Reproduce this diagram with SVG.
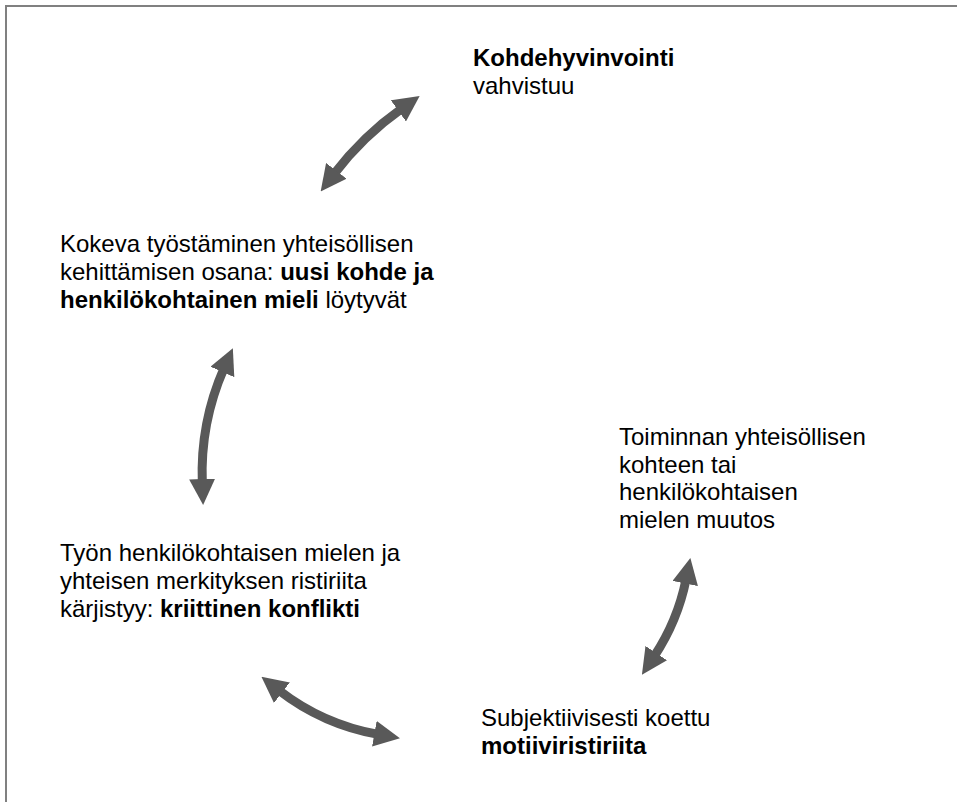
<svg xmlns="http://www.w3.org/2000/svg" width="957" height="802" viewBox="0 0 957 802">
  <style>
    .t { font-family: "Liberation Sans", Arial, sans-serif; font-size: 24px; fill: #000; }
    .b { font-weight: bold; }
    .arrow { fill: none; stroke: #595959; stroke-width: 9; stroke-linecap: butt; marker-start: url(#head); marker-end: url(#head); }
    .frame { fill: none; stroke: #808080; stroke-width: 2; }
  </style>
  <defs>
    <marker id="head" markerUnits="userSpaceOnUse" viewBox="0 0 26 26" markerWidth="26" markerHeight="26" refX="4" refY="13" orient="auto-start-reverse">
      <path d="M0,0 L26,13 L0,26 z" fill="#595959"/>
    </marker>
  </defs>

  <rect width="957" height="802" fill="#fff"/>
  <!-- outer frame, open to the right and bottom -->
  <path class="frame" d="M6,802 V6 H957"/>

  <!-- double-headed connectors around the cycle -->
  <g id="connectors">
    <path class="arrow" d="M334,174 Q363,136 401.7,108.6"/>
    <path class="arrow" d="M224,368.3 Q200,423 202.3,483"/>
    <path class="arrow" d="M278.8,690.2 Q323,724.5 378.3,734.4"/>
    <path class="arrow" d="M686,579.6 Q677.6,621 654.1,656.4"/>
  </g>

  <g id="node-kohdehyvinvointi">
    <text class="t" x="473" y="66"><tspan class="b">Kohdehyvinvointi</tspan></text>
    <text class="t" x="473" y="94">vahvistuu</text>
  </g>

  <g id="node-kokeva">
    <text class="t" x="60" y="252">Kokeva työstäminen yhteisöllisen</text>
    <text class="t" x="60" y="280">kehittämisen osana: <tspan class="b">uusi kohde ja</tspan></text>
    <text class="t" x="60" y="308"><tspan class="b">henkilökohtainen mieli</tspan> löytyvät</text>
  </g>

  <g id="node-toiminnan">
    <text class="t" x="619" y="445">Toiminnan yhteisöllisen</text>
    <text class="t" x="619" y="473">kohteen tai</text>
    <text class="t" x="619" y="500">henkilökohtaisen</text>
    <text class="t" x="619" y="528">mielen muutos</text>
  </g>

  <g id="node-tyon">
    <text class="t" x="60" y="561">Työn henkilökohtaisen mielen ja</text>
    <text class="t" x="60" y="589">yhteisen merkityksen ristiriita</text>
    <text class="t" x="60" y="617">kärjistyy: <tspan class="b">kriittinen konflikti</tspan></text>
  </g>

  <g id="node-subjektiivisesti">
    <text class="t" x="481" y="726">Subjektiivisesti koettu</text>
    <text class="t" x="481" y="754"><tspan class="b">motiiviristiriita</tspan></text>
  </g>
</svg>
